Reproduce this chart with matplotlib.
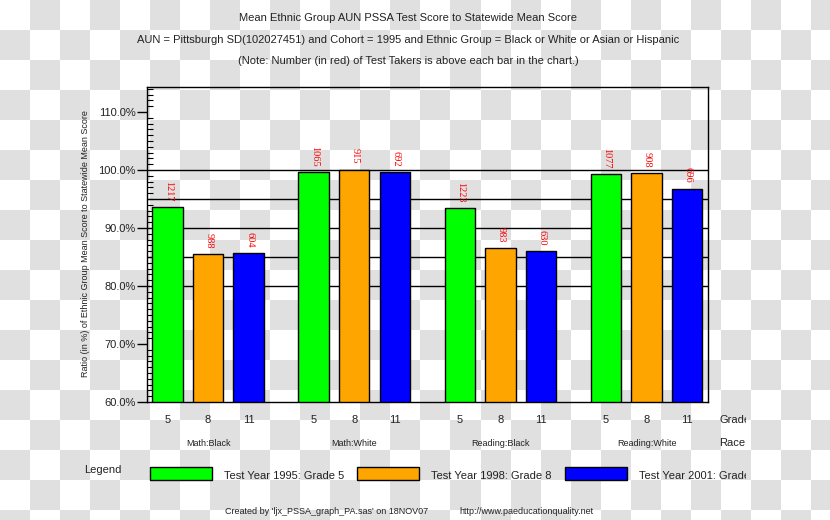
import numpy as np
import matplotlib
matplotlib.use("Agg")
import matplotlib.pyplot as plt
from matplotlib.colors import ListedColormap
from matplotlib.patches import Rectangle
from matplotlib.transforms import Bbox, IdentityTransform, TransformedBbox
from matplotlib.ticker import MultipleLocator, FuncFormatter

# data
groups = ["Math:Black", "Math:White", "Reading:Black", "Reading:White"]
grades = ["5", "8", "11"]
year_1995_grade5 = [93.6, 99.6, 93.4, 99.3]
year_1998_grade8 = [85.5, 100.0, 86.5, 99.4]
year_2001_grade11 = [85.6, 99.6, 86.0, 96.8]
takers_1995 = [1217, 1065, 1223, 1077]
takers_1998 = [988, 915, 983, 908]
takers_2001 = [604, 692, 630, 696]
legend_labels = ["Test Year 1995: Grade 5", "Test Year 1998: Grade 8",
                 "Test Year 2001: Grade 11"]
colors = ["#00ff00", "#ffa500", "#0000ff"]

W, H = 830, 520
NARROW = ["Liberation Sans Narrow", "Liberation Sans", "DejaVu Sans"]
SANS = ["Liberation Sans", "DejaVu Sans"]
TXT = "#222222"


def px(x, y):
    # pixel position (from top-left) -> figure fraction
    return x / W, 1 - y / H


fig = plt.figure(figsize=(W / 100, H / 100), dpi=100)

# checkered background
bg = fig.add_axes([0, 0, 1, 1], zorder=-10)
cells = np.indices((18, 28)).sum(axis=0) % 2
bg.imshow(cells, cmap=ListedColormap(["white", "#e0e0e0"]), interpolation="nearest",
          extent=[0, 840, 540, 0], aspect="auto")
bg.set_xlim(0, W)
bg.set_ylim(H, 0)
bg.axis("off")

# clip region: original chart was cut at x=746
clip = TransformedBbox(Bbox.from_extents(0, 0, 746, H), IdentityTransform())

left, top = px(147, 87)
right, bottom = px(707.5, 402)
ax = fig.add_axes([left, bottom, right - left, top - bottom])
ax.patch.set_alpha(0)

series = [year_1995_grade5, year_1998_grade8, year_2001_grade11]
takers = [takers_1995, takers_1998, takers_2001]
group_step = 3.6
for k in range(3):
    xs = [g * group_step + k for g in range(len(groups))]
    ax.bar(xs, series[k], width=0.75, bottom=0, color=colors[k], edgecolor="black",
           linewidth=1, zorder=2)
    for x, v, n in zip(xs, series[k], takers[k]):
        ax.annotate(str(n), (x, v), xytext=(1, 6), textcoords="offset pixels",
                    rotation=-90, ha="center", va="bottom", color="red",
                    fontsize=7.5, family=["Liberation Serif", "DejaVu Serif"], zorder=3)
        ax.annotate(grades[k], (x, 0), xycoords=("data", "axes fraction"),
                    xytext=(0, -18), textcoords="offset pixels", ha="center",
                    va="center", fontsize=8, family=SANS, color=TXT)

for g, name in enumerate(groups):
    ax.annotate(name, (g * group_step + 1, 0), xycoords=("data", "axes fraction"),
                xytext=(0, -42), textcoords="offset pixels", ha="center",
                va="center", fontsize=6.5, family=NARROW, color=TXT)

for y in range(80, 101, 5):
    ax.axhline(y, color="black", linewidth=1, zorder=1)

ax.set_xlim(-0.505, 13.3)
ax.set_ylim(60, 114.3)
ax.set_xticks([])
ax.yaxis.set_major_locator(MultipleLocator(10))
ax.yaxis.set_minor_locator(MultipleLocator(1))
ax.yaxis.set_major_formatter(FuncFormatter(lambda v, p: f"{v:.1f}%"))
ax.tick_params(axis="y", which="major", direction="out", length=7, width=1, pad=1,
               labelsize=8, labelcolor=TXT)
ax.tick_params(axis="y", which="minor", direction="in", length=4, width=0.8)
for lab in ax.get_yticklabels():
    lab.set_family(SANS)
for s in ax.spines.values():
    s.set_linewidth(1)
    s.set_color("black")

# titles
fig.text(*px(408, 18), "Mean Ethnic Group AUN PSSA Test Score to Statewide Mean Score",
         ha="center", va="center", fontsize=8, family=NARROW, color=TXT)
fig.text(*px(408, 40), "AUN = Pittsburgh SD(102027451) and Cohort = 1995 and Ethnic "
         "Group = Black or White or Asian or Hispanic",
         ha="center", va="center", fontsize=8, family=NARROW, color=TXT)
fig.text(*px(408, 61), "(Note: Number (in red) of Test Takers is above each bar in the chart.)",
         ha="center", va="center", fontsize=8, family=NARROW, color=TXT)

fig.text(*px(86, 244), "Ratio (in %) of Ethnic Group Mean Score to Statewide Mean Score",
         rotation=90, ha="center", va="center", fontsize=6.5, family=NARROW, color=TXT)

for label, y in [("Grade", 420), ("Race", 443)]:
    t = fig.text(*px(719, y), label, ha="left", va="center", fontsize=8,
                 family=SANS, color=TXT)
    t.set_clip_box(clip)
    t.set_clip_on(True)

# legend
fig.text(*px(84, 470), "Legend", ha="left", va="center", fontsize=8, family=SANS, color=TXT)
for k, start in enumerate([150, 357, 565]):
    x0, y0 = px(start, 480)
    fig.add_artist(Rectangle((x0, y0), 62 / W, 13 / H, transform=fig.transFigure,
                             facecolor=colors[k], edgecolor="black", linewidth=1))
    t = fig.text(*px(start + 74, 476), legend_labels[k], ha="left", va="center",
                 fontsize=8, family=SANS, color=TXT)
    t.set_clip_box(clip)
    t.set_clip_on(True)

# footer
fig.text(*px(225, 511), "Created by 'ljx_PSSA_graph_PA.sas' on 18NOV07", ha="left",
         va="center", fontsize=6.5, family=NARROW, color=TXT)
fig.text(*px(459, 511), "http://www.paeducationquality.net", ha="left",
         va="center", fontsize=6.5, family=NARROW, color=TXT)

fig.savefig("out.png", dpi=100)
